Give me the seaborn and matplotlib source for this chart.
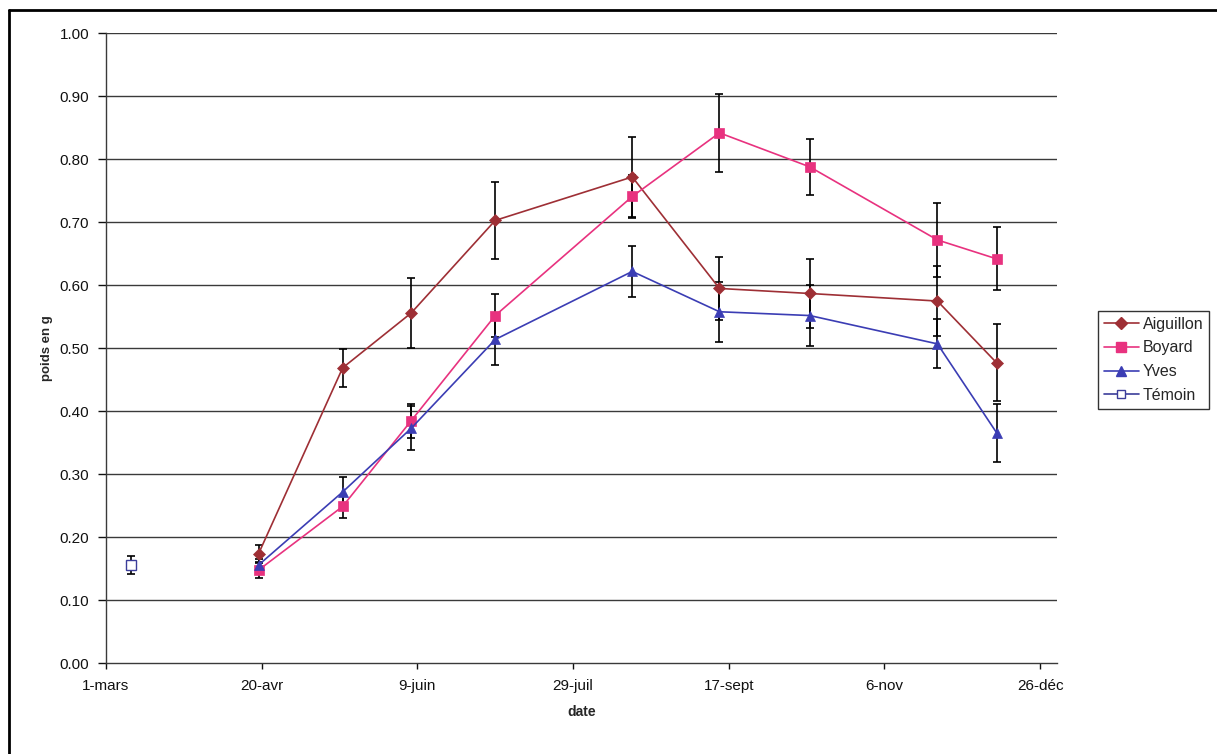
import matplotlib
matplotlib.use("Agg")
import matplotlib.pyplot as plt
import matplotlib.dates as mdates
from matplotlib.lines import Line2D
import seaborn as sns
import pandas as pd
import numpy as np

# ---------------- data ----------------
series_names = ["Aiguillon", "Boyard", "Yves"]
sample_dates = ["2007-04-19", "2007-05-16", "2007-06-07", "2007-07-04", "2007-08-17",
                "2007-09-14", "2007-10-13", "2007-11-23", "2007-12-12"]
aiguillon = [0.174, 0.469, 0.556, 0.703, 0.772, 0.595, 0.587, 0.575, 0.477]
aiguillon_err = [0.014, 0.030, 0.056, 0.061, 0.064, 0.050, 0.055, 0.055, 0.061]
boyard = [0.148, 0.249, 0.385, 0.552, 0.741, 0.842, 0.788, 0.672, 0.642]
boyard_err = [0.013, 0.018, 0.027, 0.034, 0.034, 0.062, 0.045, 0.059, 0.050]
yves = [0.156, 0.272, 0.373, 0.514, 0.622, 0.558, 0.552, 0.507, 0.366]
yves_err = [0.010, 0.023, 0.035, 0.041, 0.041, 0.048, 0.048, 0.039, 0.046]
temoin_date = ["2007-03-09"]
temoin = [0.156]
temoin_err = [0.015]

tick_dates = ["2007-03-01", "2007-04-20", "2007-06-09", "2007-07-29",
              "2007-09-17", "2007-11-06", "2007-12-26"]
tick_labels = ["1-mars", "20-avr", "9-juin", "29-juil", "17-sept", "6-nov", "26-déc"]
y_ticks = [0.0, 0.1, 0.2, 0.3, 0.4, 0.5, 0.6, 0.7, 0.8, 0.9, 1.0]

colors = {"Aiguillon": "#9e2f35", "Boyard": "#e8327f", "Yves": "#3b3db4", "Témoin": "#3b3d9a"}
markers = {"Aiguillon": "D", "Boyard": "s", "Yves": "^"}
msizes = {"Aiguillon": 6.5, "Boyard": 7, "Yves": 7.5}

# --------------- frame ---------------
values = {"Aiguillon": aiguillon, "Boyard": boyard, "Yves": yves}
errors = {"Aiguillon": aiguillon_err, "Boyard": boyard_err, "Yves": yves_err}
rows = []
for name in series_names:
    for d, v in zip(sample_dates, values[name]):
        rows.append({"date": pd.Timestamp(d), "poids": v, "variete": name})
df = pd.DataFrame(rows)

sns.set_style("white")
plt.rcParams["font.family"] = ["Liberation Sans", "DejaVu Sans"]

fig = plt.figure(figsize=(12.17, 7.54), dpi=100)
ax = fig.add_axes([106 / 1217, 1 - 663.3 / 754, (1057 - 106) / 1217, (663.3 - 33.3) / 754])

# horizontal gridlines
for yv in y_ticks[1:]:
    ax.axhline(yv, color="#3a3a3a", lw=1.0, zorder=0)

# error bars (black)
for name in series_names:
    ax.errorbar(pd.to_datetime(sample_dates), values[name], yerr=errors[name], fmt="none",
                ecolor="black", elinewidth=1.2, capsize=3.2, capthick=1.2, zorder=3)
ax.errorbar(pd.to_datetime(temoin_date), temoin, yerr=temoin_err, fmt="none",
            ecolor="black", elinewidth=1.2, capsize=3.2, capthick=1.2, zorder=3)

sns.lineplot(data=df, x="date", y="poids", hue="variete", style="variete",
             palette=colors, markers=markers, dashes=False, linewidth=1.2,
             markeredgewidth=0.5, ax=ax, legend=False, zorder=4)
for line, name in zip(ax.get_lines()[-3:], series_names):
    line.set_markersize(msizes[name])
    line.set_markeredgecolor(colors[name])

ax.plot(pd.to_datetime(temoin_date), temoin, marker="s", markersize=6.5,
        markerfacecolor="white", markeredgecolor=colors["Témoin"], markeredgewidth=1.0,
        linestyle="none", zorder=5)

# axes
x0 = pd.Timestamp("2007-03-01")
ax.set_xlim(mdates.date2num(x0), mdates.date2num(x0) + 305.4)
ax.set_ylim(0, 1.0)
ax.set_xticks(pd.to_datetime(tick_dates))
ax.set_xticklabels(tick_labels)
ax.set_yticks(y_ticks)
ax.set_yticklabels([f"{v:.2f}" for v in y_ticks])
ax.tick_params(axis="both", labelsize=11, colors="#111111", direction="out",
               length=5, width=1, bottom=True, left=True)
ax.tick_params(axis="x", pad=7, length=4)
ax.tick_params(axis="y", pad=6, length=6)
for s in ["top", "right"]:
    ax.spines[s].set_visible(False)
for s in ["left", "bottom"]:
    ax.spines[s].set_color("#3a3a3a")
    ax.spines[s].set_linewidth(1.0)

ax.set_xlabel("date", fontsize=10, fontweight="bold", labelpad=9)
ax.set_ylabel("poids en g", fontsize=9.5, fontweight="bold", labelpad=5)

# legend
handles = [
    Line2D([], [], color=colors["Aiguillon"], marker="D", markersize=6, lw=1.2,
           markeredgecolor=colors["Aiguillon"]),
    Line2D([], [], color=colors["Boyard"], marker="s", markersize=6.5, lw=1.2,
           markeredgecolor=colors["Boyard"]),
    Line2D([], [], color=colors["Yves"], marker="^", markersize=7, lw=1.2,
           markeredgecolor=colors["Yves"]),
    Line2D([], [], color=colors["Témoin"], marker="s", markersize=6, lw=1.2,
           markerfacecolor="white", markeredgecolor=colors["Témoin"]),
]
leg = fig.legend(handles, ["Aiguillon", "Boyard", "Yves", "Témoin"],
                 loc="upper left", bbox_to_anchor=(1098 / 1217, 1 - 311 / 754),
                 bbox_transform=fig.transFigure, fontsize=11.5, frameon=True,
                 fancybox=False, edgecolor="black", handlelength=2.2,
                 handletextpad=0.25, borderpad=0.35, labelspacing=0.55, borderaxespad=0)
leg.get_frame().set_linewidth(1.0)

# outer frame (top and left edges visible)
fig.add_artist(Line2D([9 / 1217, 1.0], [1 - 10 / 754, 1 - 10 / 754], color="black", lw=2,
                      transform=fig.transFigure))
fig.add_artist(Line2D([9 / 1217, 9 / 1217], [0, 1 - 10 / 754], color="black", lw=2,
                      transform=fig.transFigure))

fig.savefig("out.png", dpi=100)
